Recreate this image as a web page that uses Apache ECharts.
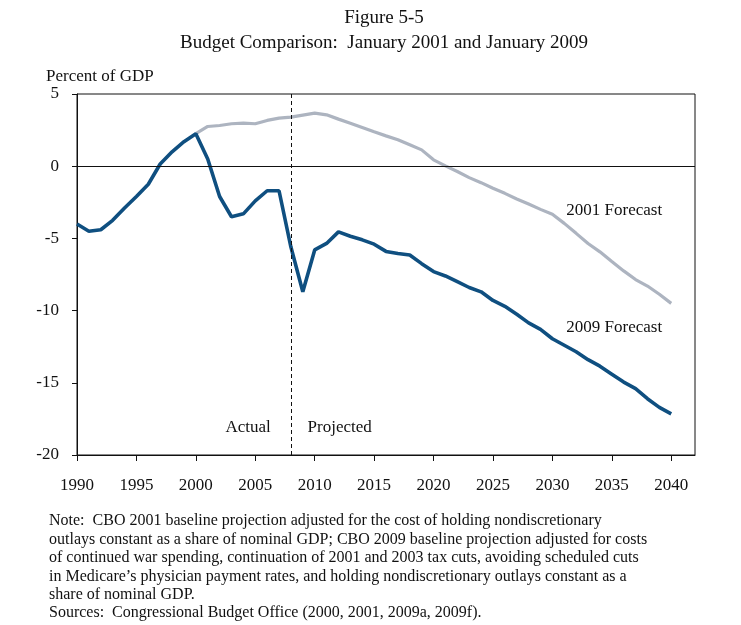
<!DOCTYPE html>
<html><head><meta charset="utf-8">
<script src="https://cdn.jsdelivr.net/npm/echarts@6/dist/echarts.min.js"></script>
<style>html,body{margin:0;padding:0;background:#fff}#c{width:741px;height:625px}</style>
</head><body><div id="c"></div>
<script>
const years = [1990,1991,1992,1993,1994,1995,1996,1997,1998,1999,2000,2001,2002,2003,2004,2005,2006,2007,2008,2009,2010,2011,2012,2013,2014,2015,2016,2017,2018,2019,2020,2021,2022,2023,2024,2025,2026,2027,2028,2029,2030,2031,2032,2033,2034,2035,2036,2037,2038,2039,2040];
const forecast2009 = [-4.0,-4.5,-4.4,-3.75,-2.9,-2.1,-1.25,0.15,1.0,1.7,2.25,0.5,-2.1,-3.5,-3.3,-2.4,-1.7,-1.7,-5.6,-8.7,-5.8,-5.35,-4.55,-4.85,-5.1,-5.4,-5.9,-6.05,-6.15,-6.75,-7.3,-7.6,-8.0,-8.4,-8.7,-9.3,-9.7,-10.25,-10.85,-11.3,-11.95,-12.4,-12.85,-13.4,-13.85,-14.4,-14.95,-15.4,-16.1,-16.7,-17.15];
const forecast2001 = [null,null,null,null,null,null,null,null,null,null,2.25,2.75,2.82,2.94,2.98,2.94,3.17,3.33,3.4,3.54,3.68,3.56,3.26,2.98,2.68,2.38,2.1,1.83,1.48,1.13,0.44,0.02,-0.37,-0.79,-1.14,-1.53,-1.88,-2.27,-2.62,-2.99,-3.33,-3.96,-4.65,-5.35,-5.93,-6.6,-7.25,-7.85,-8.3,-8.87,-9.5];
const xTicks = [1990,1995,2000,2005,2010,2015,2020,2025,2030,2035,2040];
const yTicks = [-20,-15,-10,-5,0,5];
const splitYear = 2008;
const annotations = [
  {name:'2001 Forecast', coord:[2035.2,-3.1]},
  {name:'2009 Forecast', coord:[2035.2,-11.2]},
  {name:'Actual', coord:[2004.4,-18.1]},
  {name:'Projected', coord:[2012.1,-18.1]}
];
const titleLine1 = 'Figure 5-5';
const titleLine2 = 'Budget Comparison:  January 2001 and January 2009';
const yAxisTitle = 'Percent of GDP';
const noteLines = [
  'Note:  CBO 2001 baseline projection adjusted for the cost of holding nondiscretionary',
  'outlays constant as a share of nominal GDP; CBO 2009 baseline projection adjusted for costs',
  'of continued war spending, continuation of 2001 and 2003 tax cuts, avoiding scheduled cuts',
  'in Medicare\u2019s physician payment rates, and holding nondiscretionary outlays constant as a',
  'share of nominal GDP.',
  'Sources:  Congressional Budget Office (2000, 2001, 2009a, 2009f).'
];
const FONT = '"Liberation Serif", "Times New Roman", serif';
const chart = echarts.init(document.getElementById('c'));
const tStyle = (size)=>({fontFamily:FONT, fontWeight:'normal', fontSize:size, color:'#111'});
chart.setOption({
  animation:false,
  backgroundColor:'#fff',
  title:[
    {text:titleLine1, left:384, textAlign:'center', top:9, padding:0, textStyle:tStyle(19)},
    {text:titleLine2, left:384, textAlign:'center', top:34, padding:0, textStyle:tStyle(19)},
    {text:yAxisTitle, left:46, top:68, padding:0, textStyle:tStyle(17)},
    {text:noteLines.join('\n'), left:49, top:512, padding:0, textStyle:Object.assign(tStyle(16),{lineHeight:18.4})}
  ],
  grid:{left:77, right:46, top:94, bottom:170, show:true, borderColor:'#111', borderWidth:1, backgroundColor:'transparent'},
  xAxis:{type:'value', min:1990, max:2042,
    axisLine:{show:true, onZero:false, lineStyle:{color:'#111', width:1}},
    axisTick:{show:true, length:6, lineStyle:{color:'#111'}, customValues:xTicks},
    axisLabel:{customValues:xTicks, formatter:v=>String(v), fontFamily:FONT, fontSize:17, color:'#111', margin:22},
    splitLine:{show:false}},
  yAxis:{type:'value', min:-20, max:5, interval:5,
    axisLine:{show:true, lineStyle:{color:'#111', width:1}},
    axisTick:{show:true, length:5, lineStyle:{color:'#111'}, customValues:yTicks},
    axisLabel:{customValues:yTicks, fontFamily:FONT, fontSize:17, color:'#111', margin:18},
    splitLine:{show:false}},
  series:[
    {name:'2001 Forecast', type:'line', data:years.map((y,i)=>[y,forecast2001[i]]), showSymbol:false, symbol:'none',
     lineStyle:{color:'#adb4c0', width:3.2}, z:2, connectNulls:false,
     markLine:{silent:true, symbol:'none', label:{show:false},
       data:[{yAxis:0, lineStyle:{color:'#111', width:1, type:'solid'}},
             {xAxis:splitYear, lineStyle:{color:'#111', width:1, type:[4,3]}}]}},
    {name:'2009 Forecast', type:'line', data:years.map((y,i)=>[y,forecast2009[i]]), showSymbol:false, symbol:'none',
     lineStyle:{color:'#0f4f80', width:3.6}, z:3,
     markPoint:{silent:true, symbol:'circle', symbolSize:0,
       label:{show:true, position:'inside', formatter:'{b}', fontFamily:FONT, fontSize:17, color:'#111'},
       data:annotations.map(a=>({name:a.name, coord:a.coord}))}}
  ]
});
</script></body></html>
